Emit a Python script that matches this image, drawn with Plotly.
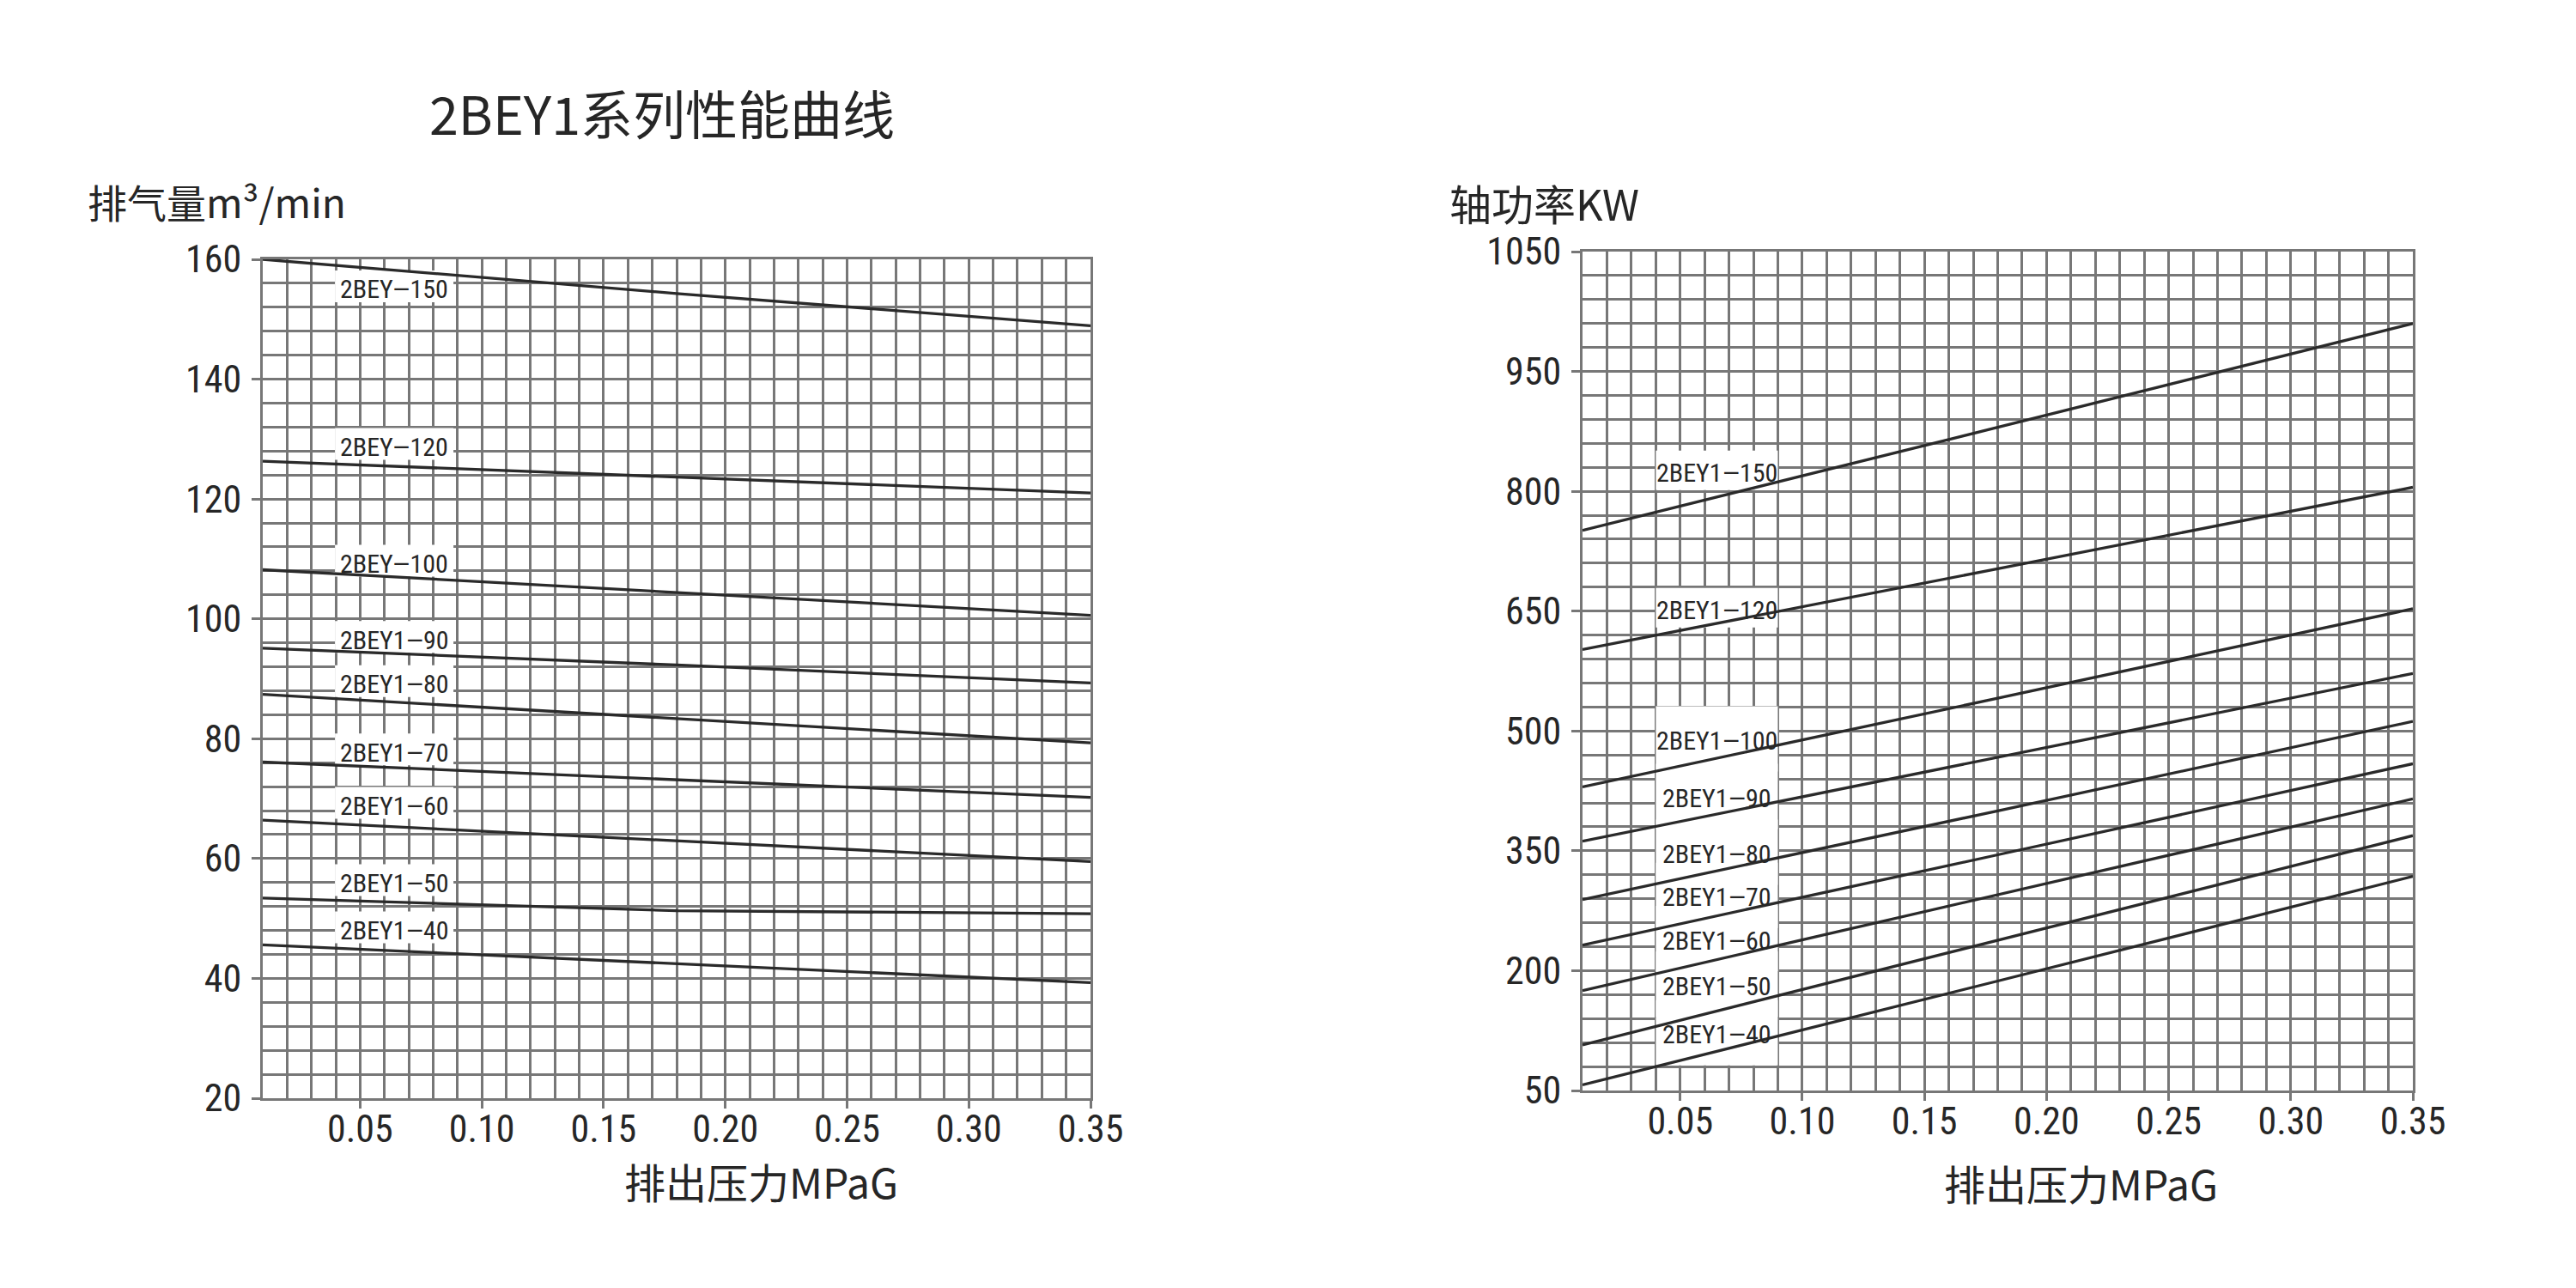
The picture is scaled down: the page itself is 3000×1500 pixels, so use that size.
import plotly.graph_objects as go

# ---------------- data ----------------
pressure = [0.01, 0.18, 0.35]          # 排出压力 MPaG

flow_labels = ["2BEY—150", "2BEY—120", "2BEY—100", "2BEY1—90", "2BEY1—80",
               "2BEY1—70", "2BEY1—60", "2BEY1—50", "2BEY1—40"]
flow_150 = [160.0, 154.3, 148.9]
flow_120 = [126.3, 123.6, 121.0]
flow_100 = [108.2, 104.4, 100.6]
flow_90 = [95.1, 92.3, 89.3]
flow_80 = [87.4, 83.3, 79.3]
flow_70 = [76.1, 73.1, 70.2]
flow_60 = [66.4, 62.9, 59.5]
flow_50 = [53.4, 51.3, 50.8]
flow_40 = [45.6, 42.4, 39.3]
flow_series = [flow_150, flow_120, flow_100, flow_90, flow_80,
               flow_70, flow_60, flow_50, flow_40]
flow_label_y = [155.0, 128.7, 109.2, 96.5, 89.1, 77.7, 68.8, 55.9, 48.0]

power_labels = ["2BEY1—150", "2BEY1—120", "2BEY1—100", "2BEY1—90", "2BEY1—80",
                "2BEY1—70", "2BEY1—60", "2BEY1—50", "2BEY1—40"]
power_150 = [751, 880, 1010]
power_120 = [602, 703, 805]
power_100 = [430, 541, 653]
power_90 = [362, 467, 572]
power_80 = [289, 400, 512]
power_70 = [232, 345, 459]
power_60 = [175, 295, 415]
power_50 = [107, 238, 369]
power_40 = [57, 187, 318]
power_series = [power_150, power_120, power_100, power_90, power_80,
                power_70, power_60, power_50, power_40]
power_label_y = [823, 651, 488, 416, 346, 292, 238, 181, 120]

x_tickvals = [0.05, 0.10, 0.15, 0.20, 0.25, 0.30, 0.35]
x_ticktext = ["0.05", "0.10", "0.15", "0.20", "0.25", "0.30", "0.35"]
flow_tickvals = [20, 40, 60, 80, 100, 120, 140, 160]
flow_ticktext = ["20", "40", "60", "80", "100", "120", "140", "160"]
power_tickvals = [50, 200, 350, 500, 650, 800, 950, 1100]
power_ticktext = ["50", "200", "350", "500", "650", "800", "950", "1050"]

label_x_left = 0.064
label_x_right = 0.065

# ---------------- style ----------------
W, H = 3000, 1500
GRID = "#777777"
CURVE = "#2a2a2a"
TXT = "#262626"
NUM_FONT = "Roboto Condensed, DejaVu Sans Condensed, Liberation Sans, sans-serif"
CJK_FONT = "Noto Sans CJK SC, Noto Sans, sans-serif"

fig = go.Figure()

for ys in flow_series:
    fig.add_trace(go.Scatter(x=pressure, y=ys, mode="lines", xaxis="x", yaxis="y",
                             line=dict(color=CURVE, width=3.3), showlegend=False,
                             hoverinfo="skip"))
for ys in power_series:
    fig.add_trace(go.Scatter(x=pressure, y=ys, mode="lines", xaxis="x2", yaxis="y2",
                             line=dict(color=CURVE, width=3.3), showlegend=False,
                             hoverinfo="skip"))


def xaxis_style(domain, anchor):
    return dict(
        domain=domain, anchor=anchor, range=[0.01, 0.35], automargin=False,
        tickmode="array", tickvals=x_tickvals, ticktext=x_ticktext,
        showgrid=True, gridcolor=GRID, gridwidth=2.5,
        minor=dict(dtick=0.01, tick0=0.0, showgrid=True, gridcolor=GRID,
                   gridwidth=2.5, ticks=""),
        showline=True, linecolor=GRID, linewidth=3, mirror=True,
        ticks="outside", ticklen=9, tickwidth=2.5, tickcolor=GRID,
        ticklabelstandoff=-14,
        tickfont=dict(family=NUM_FONT, size=44, color=TXT),
        zeroline=False, fixedrange=True,
    )


def yaxis_style(domain, anchor, rng, tv, tt, minor_dtick):
    return dict(
        domain=domain, anchor=anchor, range=rng, automargin=False,
        tickmode="array", tickvals=tv, ticktext=tt,
        showgrid=True, gridcolor=GRID, gridwidth=2.5,
        minor=dict(dtick=minor_dtick, tick0=rng[0], showgrid=True, gridcolor=GRID,
                   gridwidth=2.5, ticks=""),
        showline=True, linecolor=GRID, linewidth=3, mirror=True,
        ticks="outside", ticklen=10, tickwidth=2.5, tickcolor=GRID,
        ticklabelstandoff=3,
        tickfont=dict(family=NUM_FONT, size=44, color=TXT),
        zeroline=False, fixedrange=True,
    )


L = (306 / W, 1270 / W)
LY = (1 - 1279 / H, 1 - 302 / H)
R = (1843 / W, 2810 / W)
RY = (1 - 1270 / H, 1 - 293 / H)

shapes = []
annotations = []

# label backgrounds and texts, left chart
for txt, ly in zip(flow_labels, flow_label_y):
    shapes.append(dict(type="rect", layer="between", xref="x", yref="y",
                       xsizemode="pixel", ysizemode="pixel",
                       xanchor=label_x_left, yanchor=ly,
                       x0=-69, x1=69, y0=-15, y1=22,
                       fillcolor="white", line=dict(width=0)))
    annotations.append(dict(x=label_x_left, y=ly, xref="x", yref="y", text=txt,
                            showarrow=False,
                            font=dict(family=NUM_FONT, size=30, color=TXT)))

# label backgrounds and texts, right chart
for i, (txt, ly) in enumerate(zip(power_labels, power_label_y)):
    y0, y1 = (-20, 26) if i < 2 else (-36, 40)
    shapes.append(dict(type="rect", layer="between", xref="x2", yref="y2",
                       xsizemode="pixel", ysizemode="pixel",
                       xanchor=label_x_right, yanchor=ly,
                       x0=-71, x1=71, y0=y0, y1=y1,
                       fillcolor="white", line=dict(width=0)))
    annotations.append(dict(x=label_x_right, y=ly, xref="x2", yref="y2", text=txt,
                            showarrow=False,
                            font=dict(family=NUM_FONT, size=30, color=TXT)))

# titles
annotations += [
    dict(text="2BEY1系列性能曲线", x=771 / W, y=1 - 130 / H, xref="paper", yref="paper",
         showarrow=False, xanchor="center", yanchor="middle",
         font=dict(family=CJK_FONT, size=61, color=TXT)),
    dict(text="排气量m³/min", x=100 / W, y=1 - 234 / H, xref="paper", yref="paper",
         showarrow=False, xanchor="left", yanchor="middle",
         font=dict(family=CJK_FONT, size=46, color=TXT)),
    dict(text="轴功率KW", x=1686 / W, y=1 - 235 / H, xref="paper", yref="paper",
         showarrow=False, xanchor="left", yanchor="middle",
         font=dict(family=CJK_FONT, size=49, color=TXT)),
    dict(text="排出压力MPaG", x=886 / W, y=1 - 1375 / H, xref="paper", yref="paper",
         showarrow=False, xanchor="center", yanchor="middle",
         font=dict(family=CJK_FONT, size=48, color=TXT)),
    dict(text="排出压力MPaG", x=2423 / W, y=1 - 1377 / H, xref="paper", yref="paper",
         showarrow=False, xanchor="center", yanchor="middle",
         font=dict(family=CJK_FONT, size=48, color=TXT)),
]

fig.update_layout(
    width=W, height=H, autosize=False,
    margin=dict(l=0, r=0, t=0, b=0, pad=0, autoexpand=False),
    paper_bgcolor="white", plot_bgcolor="white",
    xaxis=xaxis_style(L, "y"),
    yaxis=yaxis_style(LY, "x", [20, 160], flow_tickvals, flow_ticktext, 4),
    xaxis2=xaxis_style(R, "y2"),
    yaxis2=yaxis_style(RY, "x2", [50, 1100], power_tickvals, power_ticktext, 30),
    shapes=shapes, annotations=annotations, showlegend=False,
)

fig.write_html("out.html")
